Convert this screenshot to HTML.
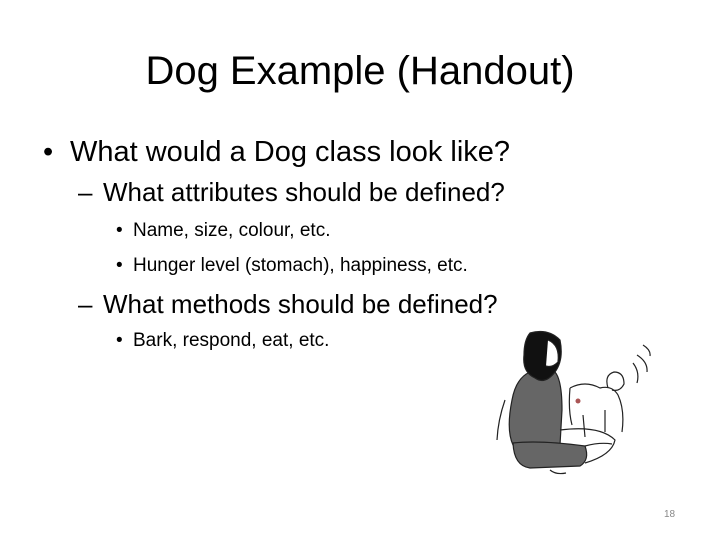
<!DOCTYPE html>
<html><head><meta charset="utf-8"><style>
body{margin:0;width:720px;height:540px;background:#fff;overflow:hidden;position:relative;font-family:"Liberation Sans",sans-serif;color:#000}
.t{position:absolute;white-space:nowrap}
</style></head><body>
<div class="t" style="left:0;width:720px;text-align:center;top:49px;font-size:40px;">Dog Example (Handout)</div>
<div class="t" style="left:43px;top:136px;font-size:29px;">•<span style="position:absolute;left:27px">What would a Dog class look like?</span></div>
<div class="t" style="left:78px;top:177px;font-size:26px;">–<span style="position:absolute;left:25px">What attributes should be defined?</span></div>
<div class="t" style="left:116px;top:220px;font-size:19px;">•<span style="position:absolute;left:17px">Name, size, colour, etc.</span></div>
<div class="t" style="left:116px;top:255px;font-size:19px;">•<span style="position:absolute;left:17px">Hunger level (stomach), happiness, etc.</span></div>
<div class="t" style="left:78px;top:289px;font-size:26px;">–<span style="position:absolute;left:25px">What methods should be defined?</span></div>
<div class="t" style="left:116px;top:330px;font-size:19px;">•<span style="position:absolute;left:17px">Bark, respond, eat, etc.</span></div>
<div class="t" style="left:664px;top:509px;font-size:10px;color:#888;">18</div>
<svg style="position:absolute;left:0;top:0" width="720" height="540" fill="none" stroke="#222" stroke-width="1.2">
<path d="M513 445 Q506 430 512 400 Q516 378 530 372 L555 372 Q562 380 562 410 L560 445 Z" fill="#666"/>
<path d="M513 443 Q540 440 585 446 Q590 460 580 466 L530 468 Q514 466 513 443 Z" fill="#666"/>
<path d="M560 430 Q600 425 615 440 Q612 455 585 463"/>
<path d="M585 446 Q600 442 612 444"/>
<path d="M530 333 Q548 328 560 340 Q564 360 555 372 Q545 385 535 378 Q522 372 524 355 Q524 340 530 333 Z" fill="#111"/>
<path d="M548 340 Q560 345 558 362 Q552 368 546 366" fill="#fff"/>
<path d="M505 400 Q498 420 497 440"/>
<path d="M550 470 Q556 475 566 473"/>
<path d="M570 388 Q585 380 600 388 Q612 385 618 395 Q625 410 622 432 M605 432 L605 410 M585 437 L583 415 M572 425 Q568 410 570 388"/>
<path d="M608 388 Q604 375 614 372 Q624 372 624 384 Q620 392 612 390"/>
<circle cx="578" cy="401" r="2.5" fill="#a55" stroke="none"/>
<path d="M633 363 Q640 372 637 383 M637 355 Q648 362 647 372 M643 345 Q651 350 650 356"/>
</svg>
</body></html>
